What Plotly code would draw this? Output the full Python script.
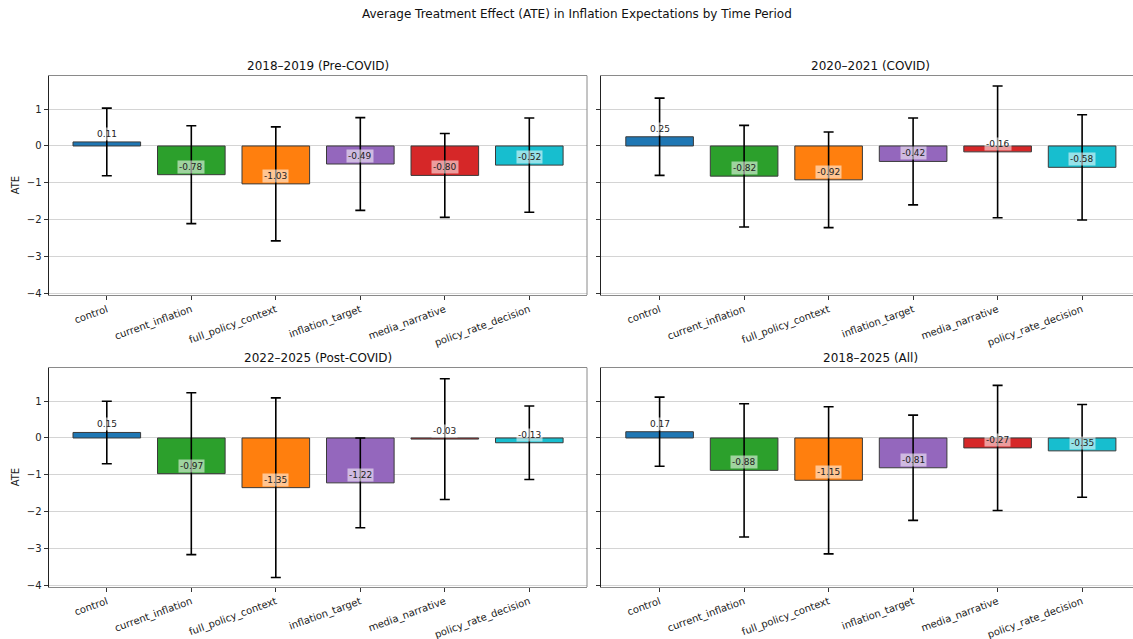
import plotly.graph_objects as go

categories = ["control", "current_inflation", "full_policy_context",
              "inflation_target", "media_narrative", "policy_rate_decision"]
colors = ["#1f77b4", "#2ca02c", "#ff7f0e", "#9467bd", "#d62728", "#17becf"]

period_titles = ["2018–2019 (Pre-COVID)", "2020–2021 (COVID)",
                 "2022–2025 (Post-COVID)", "2018–2025 (All)"]

ate_pre = [0.11, -0.78, -1.03, -0.49, -0.80, -0.52]
err_pre = [0.92, 1.33, 1.55, 1.26, 1.14, 1.28]
ate_covid = [0.25, -0.82, -0.92, -0.42, -0.16, -0.58]
err_covid = [1.05, 1.38, 1.30, 1.18, 1.79, 1.43]
ate_post = [0.15, -0.97, -1.35, -1.22, -0.03, -0.13]
err_post = [0.85, 2.20, 2.44, 1.22, 1.64, 1.00]
ate_all = [0.17, -0.88, -1.15, -0.81, -0.27, -0.35]
err_all = [0.94, 1.81, 2.00, 1.43, 1.70, 1.26]

y_ticks = [-4, -3, -2, -1, 0, 1]

ates = [ate_pre, ate_covid, ate_post, ate_all]
errs = [err_pre, err_covid, err_post, err_all]

W, H = 1133, 639
FONT = "DejaVu Sans"

# pixel layout of the axes boxes
left_x = (48.5, 587.0)
right_x = (601.3, 1133.0)
top_y = (75.7, 295.0)
bot_y = (367.7, 587.0)
px_per_cat = 84.5

boxes = [(left_x, top_y), (right_x, top_y), (left_x, bot_y), (right_x, bot_y)]

fig = go.Figure()
annotations = []
shapes = []

for i, (ate, err) in enumerate(zip(ates, errs)):
    n = i + 1
    xa = "x" if n == 1 else f"x{n}"
    ya = "y" if n == 1 else f"y{n}"
    fig.add_trace(go.Bar(
        x=categories, y=ate, xaxis=xa, yaxis=ya,
        marker=dict(color=colors, line=dict(color="#3a3a3a", width=1)),
        width=0.8,
        error_y=dict(type="data", array=err, visible=True, color="black",
                     thickness=1.6, width=5),
        showlegend=False, hoverinfo="skip",
    ))
    for c, v in zip(categories, ate):
        annotations.append(dict(
            x=c, y=v, xref=xa, yref=ya, text=f"{v:.2f}", showarrow=False,
            yshift=8, yanchor="middle", xanchor="center",
            font=dict(family=FONT, size=9, color="#222"),
            bgcolor="rgba(255,255,255,0.55)", borderpad=1,
        ))
    (x0, x1), (y0, y1) = boxes[i]
    xr1 = -0.69 + (x1 - x0) / px_per_cat
    xdom = [x0 / W, x1 / W]
    ydom = [1 - y1 / H, 1 - y0 / H]
    xkey = "xaxis" if n == 1 else f"xaxis{n}"
    ykey = "yaxis" if n == 1 else f"yaxis{n}"
    fig.layout[xkey] = dict(
        domain=xdom, anchor=ya, type="category", range=[-0.69, xr1],
        tickangle=-20, ticks="outside", ticklen=4, tickcolor="#333",
        tickfont=dict(family=FONT, size=10, color="#222"),
        showgrid=False, showline=True, linecolor="#8a8a8a", linewidth=1,
        mirror=True, zeroline=False, automargin=False,
    )
    fig.layout[ykey] = dict(
        domain=ydom, anchor=xa, range=[-4.05, 1.91],
        tickvals=y_ticks, ticktext=[str(t).replace("-", "−") for t in y_ticks],
        showticklabels=(n in (1, 3)),
        ticks="outside", ticklen=4, tickcolor="#333",
        tickfont=dict(family=FONT, size=10, color="#222"),
        showgrid=True, gridcolor="#d4d4d4", gridwidth=1,
        showline=True, linecolor="#222", linewidth=1, mirror=False,
        zeroline=False, automargin=False,
    )
    # right spine
    if n in (1, 3):
        shapes.append(dict(type="line", xref=f"{xa} domain", yref=f"{ya} domain",
                           x0=1, x1=1, y0=0, y1=1,
                           line=dict(color="#8a8a8a", width=1)))
        # y axis label
        annotations.append(dict(
            x=15 / W, y=1 - (y0 + y1) / 2 / H, xref="paper", yref="paper",
            text="ATE", textangle=-90, showarrow=False,
            xanchor="center", yanchor="middle",
            font=dict(family=FONT, size=10, color="#222"),
        ))
    # subplot title
    annotations.append(dict(
        x=(x0 + (x0 + 6.38 * px_per_cat)) / 2 / W if n in (2, 4) else (x0 + x1) / 2 / W,
        y=1 - (y0 - 10) / H, xref="paper", yref="paper",
        text=period_titles[i], showarrow=False, xanchor="center", yanchor="middle",
        font=dict(family=FONT, size=12, color="#111"),
    ))

annotations.append(dict(
    x=577 / W, y=1 - 14 / H, xref="paper", yref="paper",
    text="Average Treatment Effect (ATE) in Inflation Expectations by Time Period",
    showarrow=False, xanchor="center", yanchor="middle",
    font=dict(family=FONT, size=12, color="#111"),
))

fig.update_layout(
    width=W, height=H, margin=dict(l=0, r=0, t=0, b=0, autoexpand=False),
    paper_bgcolor="white", plot_bgcolor="white",
    annotations=annotations, shapes=shapes, bargap=0.2,
    font=dict(family=FONT),
)

fig.write_html("out.html", config={"displayModeBar": False},
               post_script="document.body.style.margin='0';document.body.style.overflow='hidden';")
